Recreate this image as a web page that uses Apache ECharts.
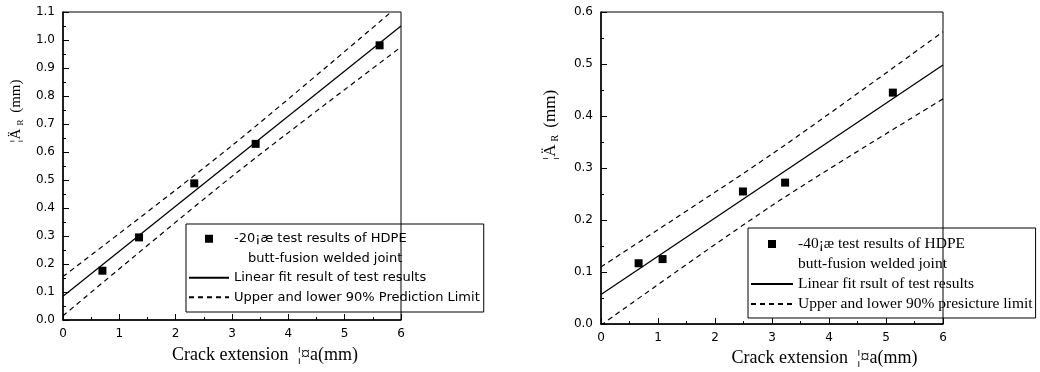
<!DOCTYPE html>
<html>
<head>
<meta charset="utf-8">
<script src="https://cdn.jsdelivr.net/npm/echarts@6/dist/echarts.min.js"></script>
<style>
  html, body { margin: 0; padding: 0; background: #fff; }
  #chart { width: 1040px; height: 372px; }
</style>
</head>
<body>
<div id="chart"></div>
<script>
// left panel (-20 C)
const leftTestX = [0.7, 1.35, 2.33, 3.42, 5.62];
const leftTestY = [0.176, 0.295, 0.488, 0.629, 0.981];
const leftFitX = [0, 6];
const leftFitY = [0.085, 1.05];
const leftLimX = [0, 3, 6];
const leftUpper = [0.155, 0.623, 1.13];
const leftLower = [0.015, 0.513, 0.975];

// right panel (-40 C)
const rightTestX = [0.66, 1.08, 2.49, 3.23, 5.12];
const rightTestY = [0.117, 0.125, 0.255, 0.272, 0.445];
const rightFitX = [0, 6];
const rightFitY = [0.057, 0.498];
const rightLimX = [0, 3, 6];
const rightUpper = [0.11, 0.327, 0.562];
const rightLower = [-0.002, 0.228, 0.433];

const leftNames = {
  test: '-20¡æ test results of HDPE',
  test2: 'butt-fusion welded joint',
  fit: 'Linear fit result of test results',
  lim: 'Upper and lower 90% Prediction Limit'
};
const rightNames = {
  test: '-40¡æ test results of HDPE',
  test2: 'butt-fusion welded joint ',
  fit: 'Linear fit rsult of test results',
  lim: 'Upper and lower 90% presicture limit'
};

const zip = (xs, ys) => xs.map((x, i) => [x, ys[i]]);

const SERIF = "'Liberation Serif', 'Times New Roman', serif";
const SANS = "'DejaVu Sans', Verdana, sans-serif";
const SQUARE = 'path://M0,0L8,0L8,8L0,8Z';

function xAxisCfg(gridIndex, pad, gap) {
  return {
    type: 'value', gridIndex, min: 0, max: 6, interval: 1,
    name: 'Crack extension  ¦¤a(mm)',
    nameLocation: 'middle', nameGap: gap,
    nameTextStyle: { fontFamily: SERIF, fontSize: 18, color: '#000', padding: [0, 0, 0, pad] },
    axisLine: { onZero: false, lineStyle: { color: '#000', width: 1.5 } },
    axisTick: { inside: true, length: 6, lineStyle: { color: '#000' } },
    minorTick: { show: true, splitNumber: 2, length: 3, lineStyle: { color: '#000' } },
    axisLabel: { fontFamily: SANS, fontSize: 12, color: '#000', margin: 8 },
    splitLine: { show: false }
  };
}

function yAxisCfg(gridIndex, max, gap, pad, fs) {
  return {
    type: 'value', gridIndex, min: 0, max, interval: 0.1,
    name: '{n|¦Ä}{s|R} (mm)',
    nameLocation: 'middle', nameRotate: 90, nameGap: gap,
    nameTextStyle: {
      fontFamily: SERIF, fontSize: fs, color: '#000', padding: [0, 0, 0, pad],
      rich: {
        n: { fontFamily: SERIF, fontSize: fs, color: '#000' },
        s: { fontFamily: SERIF, fontSize: Math.round(fs * 0.6), color: '#000', padding: [Math.round(fs * 0.5), 3, 0, 3] }
      }
    },
    axisLine: { lineStyle: { color: '#000', width: 1.5 } },
    axisTick: { inside: true, length: 6, lineStyle: { color: '#000' } },
    minorTick: { show: true, splitNumber: 2, length: 3, lineStyle: { color: '#000' } },
    axisLabel: { fontFamily: SANS, fontSize: 12, color: '#000', margin: 8, formatter: v => v.toFixed(1) },
    splitLine: { show: false }
  };
}

function panelSeries(idx, names, tx, ty, fx, fy, lx, up, lo) {
  const base = { xAxisIndex: idx, yAxisIndex: idx, silent: true };
  const dash = { color: '#000', width: 1.2, type: [5, 4] };
  return [
    Object.assign({ type: 'scatter', name: names.test, symbol: 'rect', symbolSize: 8,
      itemStyle: { color: '#000', opacity: 1 }, data: zip(tx, ty) }, base),
    Object.assign({ type: 'scatter', name: names.test2, data: [] }, base),
    Object.assign({ type: 'line', name: names.fit, symbol: 'none',
      lineStyle: { color: '#000', width: 1.3 }, itemStyle: { color: '#000' }, data: zip(fx, fy) }, base),
    Object.assign({ type: 'line', name: names.lim, symbol: 'none', smooth: 0.3,
      lineStyle: dash, itemStyle: { color: '#000' }, data: zip(lx, up) }, base),
    Object.assign({ type: 'line', name: names.lim, symbol: 'none', smooth: 0.3,
      lineStyle: dash, itemStyle: { color: '#000' }, data: zip(lx, lo) }, base)
  ];
}

function legendCfg(names, pos, font, indent) {
  return Object.assign({
    orient: 'vertical', itemGap: 0, selectedMode: false, symbolKeepAspect: true,
    borderColor: '#000', borderWidth: 1, borderRadius: 0,
    textStyle: font,
    data: [
      { name: names.test, icon: SQUARE, itemStyle: { color: '#000', opacity: 1 } },
      { name: names.test2, icon: 'none', itemStyle: { opacity: 0 }, textStyle: { padding: [0, 0, 0, indent] } },
      { name: names.fit, itemStyle: { opacity: 0 } },
      { name: names.lim, itemStyle: { opacity: 0 } }
    ]
  }, pos);
}

const chart = echarts.init(document.getElementById('chart'));

chart.setOption({
  animation: false,
  backgroundColor: '#fff',
  grid: [
    { left: 63, top: 12, width: 338, height: 308, show: true, borderColor: '#000', borderWidth: 1 },
    { left: 601, top: 12, width: 342, height: 313, show: true, borderColor: '#000', borderWidth: 1 }
  ],
  xAxis: [xAxisCfg(0, 66, 26), xAxisCfg(1, 105, 23)],
  yAxis: [yAxisCfg(0, 1.1, 38, 110, 15), yAxisCfg(1, 0.6, 41, 86, 17)],
  legend: [
    legendCfg(leftNames,
      { left: 186, top: 224, itemWidth: 40, itemHeight: 8, padding: [5, 4, 5, 2] },
      { fontFamily: SANS, fontSize: 13, color: '#000', lineHeight: 19.5 }, 14),
    legendCfg(rightNames,
      { left: 748, top: 228, itemWidth: 42, itemHeight: 8, padding: [6, 3, 4, 2] },
      { fontFamily: SERIF, fontSize: 15.5, color: '#000', lineHeight: 20 }, 0)
  ],
  series: [
    ...panelSeries(0, leftNames, leftTestX, leftTestY, leftFitX, leftFitY, leftLimX, leftUpper, leftLower),
    ...panelSeries(1, rightNames, rightTestX, rightTestY, rightFitX, rightFitY, rightLimX, rightUpper, rightLower)
  ]
});
</script>
</body>
</html>
